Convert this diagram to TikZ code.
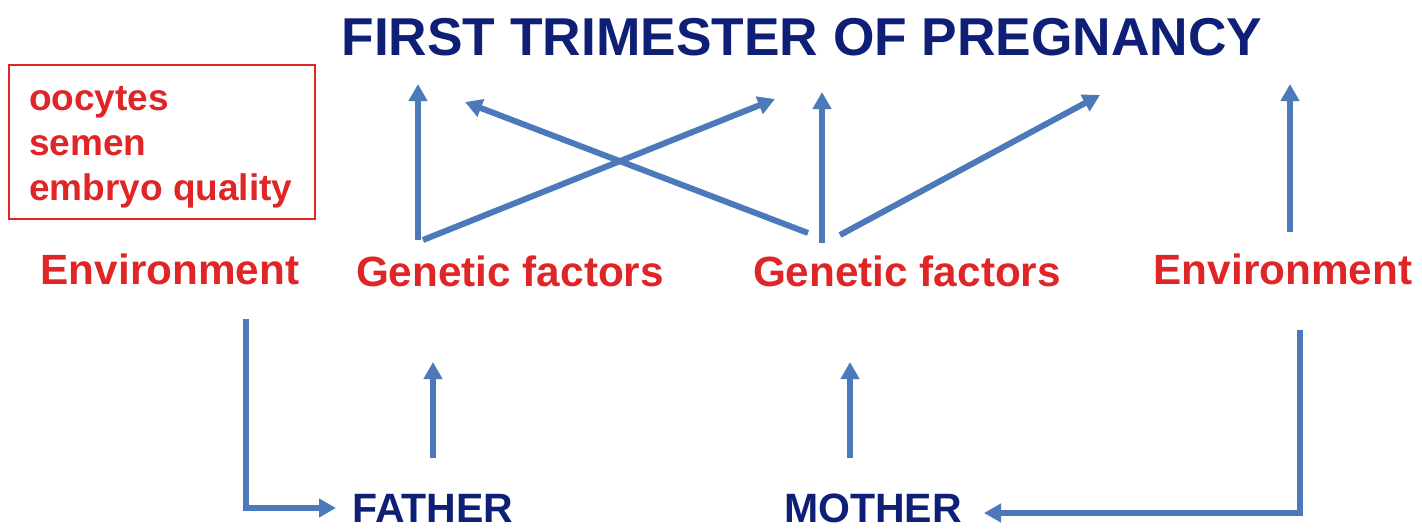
\documentclass[tikz,border=0pt]{standalone}
\usepackage{fontspec}
\setmainfont{Liberation Sans}
\usetikzlibrary{arrows.meta}
\definecolor{navy}{RGB}{15,31,117}
\definecolor{redtxt}{RGB}{224,37,39}
\definecolor{linkblue}{RGB}{75,121,185}
\begin{document}
\begin{tikzpicture}[x=1pt,y=-1pt,
  title/.style={text=navy,font=\bfseries\fontsize{53.3}{60}\selectfont,anchor=base,inner sep=0},
  parent/.style={text=navy,font=\bfseries\fontsize{41}{48}\selectfont,anchor=base,inner sep=0},
  factor/.style={text=redtxt,font=\bfseries\fontsize{42.3}{48}\selectfont,anchor=base,inner sep=0},
  boxtext/.style={text=redtxt,font=\bfseries\fontsize{37}{45}\selectfont,anchor=base west,inner sep=0},
  link/.style={draw=linkblue,line width=6pt,-{Triangle[length=17pt,width=18pt]}}]
\useasboundingbox (0,0) rectangle (1422,528);
% texts
\node[title] (title) at (802,55) {FIRST TRIMESTER OF PREGNANCY};
\node[factor] (envL) at (170,284) {Environment};
\node[factor] (genF) at (510,286) {Genetic factors};
\node[factor] (genM) at (907,286) {Genetic factors};
\node[factor] (envR) at (1283,284) {Environment};
\node[parent] (father) at (433,522) {FATHER};
\node[parent] (mother) at (873,522) {MOTHER};
% box
\draw[redtxt,line width=1.5pt] (9,65) rectangle (315,219);
\node[boxtext] (oo) at (29,110) {oocytes};
\node[boxtext] (se) at (29,155) {semen};
\node[boxtext] (em) at (29,200) {embryo quality};
% coordinates
\coordinate (a1s) at (418,240); \coordinate (a1e) at (418,84);
\coordinate (a2s) at (423,240); \coordinate (a2e) at (775,99);
\coordinate (a3s) at (808,233); \coordinate (a3e) at (465,102);
\coordinate (a4s) at (822,243); \coordinate (a4e) at (822,92);
\coordinate (a5s) at (840,235); \coordinate (a5e) at (1100,95);
\coordinate (a6s) at (1290,232); \coordinate (a6e) at (1290,84);
\coordinate (fs) at (433,458); \coordinate (fe) at (433,362);
\coordinate (ms) at (850,458); \coordinate (me) at (850,362);
\coordinate (lT) at (246,319); \coordinate (lC) at (246,508); \coordinate (lE) at (336,508);
\coordinate (rT) at (1300,330); \coordinate (rC) at (1300,513); \coordinate (rE) at (984,513);
% arrows
\draw[link] (a1s) -- (a1e);
\draw[link] (a2s) -- (a2e);
\draw[link] (a3s) -- (a3e);
\draw[link] (a4s) -- (a4e);
\draw[link] (a5s) -- (a5e);
\draw[link] (a6s) -- (a6e);
\draw[link] (fs) -- (fe);
\draw[link] (ms) -- (me);
\draw[link] (lT) -- (lC) -- (lE);
\draw[link] (rT) -- (rC) -- (rE);
\end{tikzpicture}
\end{document}
